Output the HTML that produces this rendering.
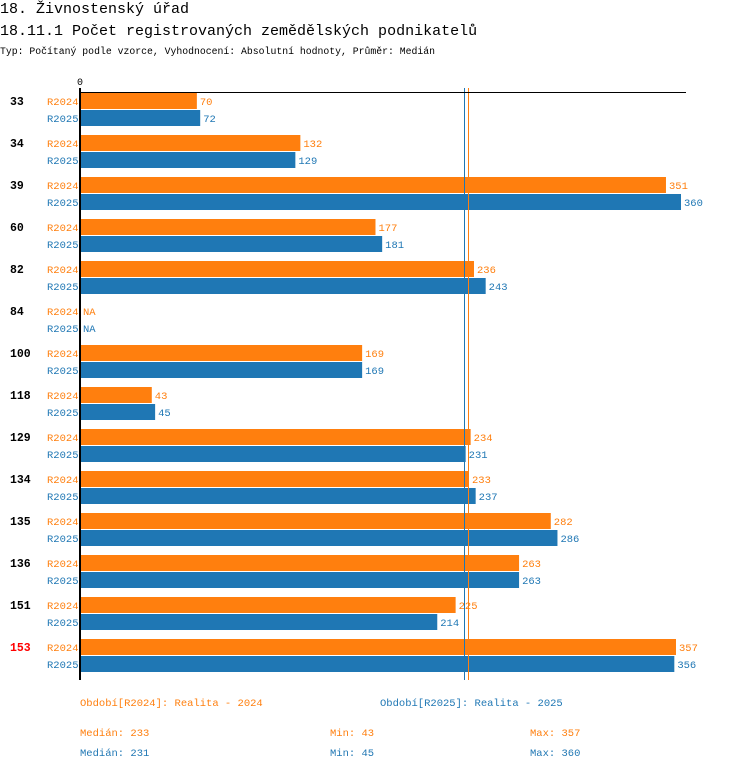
<!DOCTYPE html>
<html><head><meta charset="utf-8"><style>
body{margin:0;background:#fff;width:750px;height:770px;overflow:hidden}
svg{font-family:"Liberation Mono","DejaVu Sans Mono",monospace}
</style></head><body>
<svg width="750" height="770" id="s">
<text x="0" y="13" font-size="15">18. Živnostenský úřad</text>
<text x="0" y="35" font-size="15">18.11.1 Počet registrovaných zemědělských podnikatelů</text>
<text x="0" y="54" font-size="9.8">Typ: Počítaný podle vzorce, Vyhodnocení: Absolutní hodnoty, Průměr: Medián</text>
<g id="plot"></g>
<text x="80" y="706" font-size="10.5" fill="#ff7f0e">Období[R2024]: Realita - 2024</text>
<text x="380" y="706" font-size="10.5" fill="#1f77b4">Období[R2025]: Realita - 2025</text>
<g id="stats" font-size="10.5"></g>
</svg>
<script>
const categories=["33","34","39","60","82","84","100","118","129","134","135","136","151","153"];
const r2024=[70,132,351,177,236,null,169,43,234,233,282,263,225,357];
const r2025=[72,129,360,181,243,null,169,45,231,237,286,263,214,356];
const highlighted=["153"];
const NS="http://www.w3.org/2000/svg";
const X0=80,SC=601/360,Y0=93,PITCH=42;
const xs=v=>X0+v*SC;
const g=document.getElementById('plot');
function mk(t,a,p){const e=document.createElementNS(NS,t);for(const k in a)e.setAttribute(k,a[k]);(p||g).appendChild(e);return e;}
const OR="#ff7f0e",BL="#1f77b4";
function med(a){const b=a.filter(v=>v!=null).sort((x,y)=>x-y);const n=b.length;return n%2?b[(n-1)/2]:(b[n/2-1]+b[n/2])/2;}
categories.forEach((c,i)=>{
  const y=Y0+i*PITCH;
  const t=mk('text',{x:10,y:y+12,'font-size':11.5,'font-weight':'bold',fill:highlighted.includes(c)?'#f00':'#000'});t.textContent=c;
  
  
  [[r2024,OR,'R2024',0],[r2025,BL,'R2025',17]].forEach(([arr,col,lab,off])=>{
    const yy=y+off;
    const l=mk('text',{x:47,y:yy+12,'font-size':10.5,fill:col});l.textContent=lab;
    
    
    const v=arr[i];
    if(v!=null){
      const r=mk('rect',{x:X0,y:yy,width:xs(v)-X0,height:16,fill:col});
      
      
    }
    const vt=mk('text',{x:(v!=null?xs(v):X0)+3,y:yy+12,'font-size':10.5,fill:col});vt.textContent=v!=null?v:'NA';
    
    
  });
});
const m24=med(r2024),m25=med(r2025);
const bx=Math.floor(xs(m25))-0.5, ox=Math.floor(xs(m24))+0.5;
let ml=mk('line',{x1:bx,x2:bx,y1:88,y2:680,stroke:BL,'stroke-width':1});


ml=mk('line',{x1:ox,x2:ox,y1:88,y2:680,stroke:OR,'stroke-width':1});


let ax=mk('line',{x1:X0,x2:686,y1:92.5,y2:92.5,stroke:'#000','stroke-width':1});


ax=mk('line',{x1:X0,x2:X0,y1:88,y2:680,stroke:'#000','stroke-width':2});


const z=mk('text',{x:77,y:85,'font-size':10});z.textContent='0';


const st=document.getElementById('stats');
[[r2024,OR,736],[r2025,BL,756]].forEach(([a,col,y])=>{
  const vals=a.filter(v=>v!=null);
  [[80,'Medián: '+med(a)],[330,'Min: '+Math.min(...vals)],[530,'Max: '+Math.max(...vals)]].forEach(([x,s])=>{
    const t=mk('text',{x:x,y:y,fill:col},st);t.textContent=s;
    
    
  });
});
</script>
</body></html>
